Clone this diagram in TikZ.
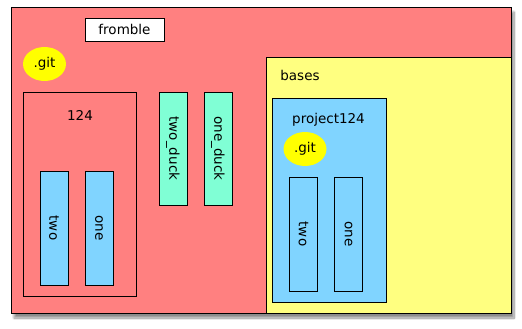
\documentclass[tikz,border=0pt]{standalone}
\usepackage{fontspec}
\setmainfont{DejaVu Sans}
\usepackage{xcolor}
\usetikzlibrary{shapes.geometric, positioning, shadows.blur}

\definecolor{frombred}{HTML}{FF8080}
\definecolor{basesyellow}{HTML}{FFFF80}
\definecolor{dirblue}{HTML}{80D4FF}
\definecolor{duckgreen}{HTML}{80FFD5}
\definecolor{gityellow}{HTML}{FFFF00}

\tikzset{
  folder/.style={draw=black, line width=0.9pt, rectangle, inner sep=0pt},
  subdir/.style={folder, fill=dirblue, rotate=-90, minimum width=114pt, minimum height=28pt},
  duckdir/.style={folder, fill=duckgreen, rotate=-90, minimum width=113pt, minimum height=28pt},
  gitdot/.style={ellipse, fill=gityellow, minimum width=43pt, minimum height=34pt, inner sep=0pt},
}

\begin{document}
\begin{tikzpicture}[x=1pt, y=-1pt, font=\fontsize{13.5}{16}\selectfont]
\useasboundingbox (0,0) rectangle (522,329);

% top level folder
\node[folder, fill=frombred, minimum width=500pt, minimum height=306pt,
  blur shadow={shadow xshift=3pt, shadow yshift=-5pt, shadow blur steps=10, shadow opacity=45}]
  (fromble) at (261,160) {};
\node[folder, fill=white, minimum width=79pt, minimum height=23pt] (frombletag) at (124.5,29.5) {fromble};
\node[gitdot] (git) at (44.5,64) {.git};

% 124 and its two subfolders
\node[folder, fill=frombred, minimum width=113pt, minimum height=204pt] (dir124) at (79.5,194) {};
\node (lab124) at (80,115) {124};
\node[subdir] (two) at (54,228) {two};
\node[subdir] (one) at (99,228) {one};

% the duck folders
\node[duckdir] (twoduck) at (173,148.5) {two\_duck};
\node[duckdir] (oneduck) at (218,148.5) {one\_duck};

% bases
\node[folder, fill=basesyellow, minimum width=245pt, minimum height=256pt] (bases) at (388.5,185) {};
\node (basestag) at (300,75) {bases};

% project124 inside bases
\node[folder, fill=dirblue, minimum width=114pt, minimum height=204pt] (project) at (329,200) {};
\node (projecttag) at (328.5,120) {project124};
\node[gitdot] (projgit) at (305,149) {.git};
\node[subdir] (projtwo) at (303.5,234) {two};
\node[subdir] (projone) at (348.5,234) {one};

\end{tikzpicture}
\end{document}
